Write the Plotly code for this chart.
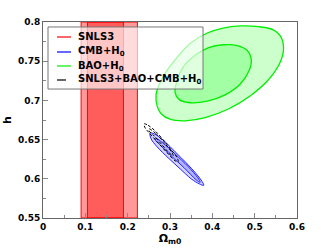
import plotly.graph_objects as go

# SNLS3 constraints on Omega_m0 (1 sigma and 2 sigma bands)
snls_1sig = [0.105, 0.19]
snls_2sig = [0.09, 0.223]

# BAO+H0 contours
bao_out_x = [0.267, 0.270, 0.279, 0.300, 0.336, 0.383, 0.438, 0.490, 0.532, 0.558, 0.568,
             0.563, 0.544, 0.509, 0.466, 0.423, 0.388, 0.348, 0.317, 0.289, 0.272, 0.267]
bao_out_y = [0.707, 0.692, 0.683, 0.676, 0.674, 0.678, 0.689, 0.706, 0.726, 0.746, 0.764,
             0.780, 0.790, 0.794, 0.795, 0.792, 0.786, 0.773, 0.755, 0.735, 0.717, 0.707]
bao_in_x = [0.312, 0.322, 0.348, 0.388, 0.430, 0.466, 0.487, 0.492, 0.482, 0.459, 0.426,
            0.390, 0.360, 0.333, 0.317, 0.312]
bao_in_y = [0.710, 0.701, 0.697, 0.699, 0.707, 0.721, 0.738, 0.752, 0.764, 0.770, 0.771,
            0.767, 0.758, 0.744, 0.726, 0.710]

# CMB+H0 contours
cmb_out_x = [0.253, 0.267, 0.2886, 0.3122, 0.3382, 0.3619, 0.3761, 0.3796, 0.369, 0.350,
             0.324, 0.2956, 0.2696, 0.2554, 0.253]
cmb_out_y = [0.6586, 0.656, 0.6471, 0.6344, 0.6204, 0.6064, 0.5962, 0.5917, 0.5936, 0.600,
             0.6127, 0.6268, 0.6408, 0.651, 0.6586]
cmb_in_x = [0.2649, 0.2886, 0.3193, 0.350, 0.369, 0.3713, 0.3619, 0.3335, 0.3027, 0.2767,
            0.2649, 0.2649]
cmb_in_y = [0.6522, 0.6433, 0.628, 0.6115, 0.5987, 0.5955, 0.5987, 0.614, 0.6293, 0.6433,
            0.6497, 0.6522]

# SNLS3+BAO+CMB+H0 contours
all_out_x = [0.2389, 0.2483, 0.2649, 0.2838, 0.3027, 0.3169, 0.3193, 0.3122, 0.2933, 0.272,
             0.2531, 0.2412, 0.2389]
all_out_y = [0.6701, 0.6682, 0.6611, 0.6497, 0.6369, 0.6268, 0.6217, 0.6229, 0.6331, 0.6459,
             0.6573, 0.665, 0.6701]
all_in_x = [0.2507, 0.2673, 0.2886, 0.3051, 0.3075, 0.298, 0.2791, 0.2602, 0.2507, 0.2507]
all_in_y = [0.6637, 0.6573, 0.6446, 0.6331, 0.6293, 0.6331, 0.6446, 0.656, 0.6611, 0.6637]

x_ticks = [0, 0.1, 0.2, 0.3, 0.4, 0.5, 0.6]
x_ticktext = ["0", "0.1", "0.2", "0.3", "0.4", "0.5", "0.6"]
y_ticks = [0.55, 0.6, 0.65, 0.7, 0.75, 0.8]
y_ticktext = ["0.55", "0.6", "0.65", "0.7", "0.75", "0.8"]
x_range = [0, 0.6]
y_range = [0.55, 0.8]

legend_names = ["SNLS3", "CMB+H<sub>0</sub>", "BAO+H<sub>0</sub>", "SNLS3+BAO+CMB+H<sub>0</sub>"]
legend_colors = ["#ff0000", "#0000ff", "#00ee00", "#000000"]
legend_dash = ["solid", "solid", "solid", "dash"]

FONT = "DejaVu Sans"
fig = go.Figure()

def band(lo, hi):
    return [lo, hi, hi, lo, lo], [y_range[0], y_range[0], y_range[1], y_range[1], y_range[0]]

for b in (snls_2sig, snls_1sig):
    bx, by = band(*b)
    fig.add_trace(go.Scatter(x=bx, y=by, mode="lines", fill="toself",
                             fillcolor="rgba(255,0,0,0.4)",
                             line=dict(color="#ff0000", width=1), showlegend=False,
                             hoverinfo="skip"))

for xs, ys in ((bao_out_x, bao_out_y), (bao_in_x, bao_in_y)):
    fig.add_trace(go.Scatter(x=xs, y=ys, mode="lines", fill="toself",
                             fillcolor="rgba(0,255,0,0.2)",
                             line=dict(color="#00ee00", width=1.3, shape="spline", smoothing=1),
                             showlegend=False))

for xs, ys in ((cmb_out_x, cmb_out_y), (cmb_in_x, cmb_in_y)):
    fig.add_trace(go.Scatter(x=xs, y=ys, mode="lines", fill="toself",
                             fillcolor="rgba(60,60,255,0.22)",
                             line=dict(color="#2020ff", width=1, shape="spline", smoothing=1),
                             showlegend=False))

for xs, ys in ((all_out_x, all_out_y), (all_in_x, all_in_y)):
    fig.add_trace(go.Scatter(x=xs, y=ys, mode="lines",
                             line=dict(color="#000000", width=1, dash="3px,2px",
                                       shape="spline", smoothing=1),
                             showlegend=False))

# Legend box (drawn as layout decorations)
shapes = [dict(type="rect", xref="paper", yref="paper", x0=0.0197, x1=0.63, y0=0.658, y1=0.9745,
               fillcolor="rgba(255,255,255,0.65)", line=dict(color="#777777", width=1),
               layer="above")]
annotations = []
row_y = [0.9235, 0.847, 0.7755, 0.7041]
for name, col, dsh, ry in zip(legend_names, legend_colors, legend_dash, row_y):
    shapes.append(dict(type="line", xref="paper", yref="paper", x0=0.0551, x1=0.1102,
                       y0=ry, y1=ry, line=dict(color=col, width=1.2, dash=dsh), layer="above"))
    annotations.append(dict(xref="paper", yref="paper", x=0.1299, y=ry, xanchor="left",
                            yanchor="middle", text=name, showarrow=False,
                            font=dict(family=FONT, size=10, color="#000000", weight="bold")))

axis_common = dict(showgrid=False, zeroline=False, showline=True, linecolor="#666666",
                   linewidth=1, mirror=True, ticks="inside", ticklen=5, tickcolor="#888888",
                   automargin=False,
                   tickfont=dict(family=FONT, size=9, color="#000000", weight="bold"))

fig.update_layout(
    width=321, height=251,
    margin=dict(l=43, r=24, t=22, b=33),
    paper_bgcolor="white", plot_bgcolor="white",
    shapes=shapes, annotations=annotations, showlegend=False,
    xaxis=dict(range=x_range, tickvals=x_ticks, ticktext=x_ticktext,
               minor=dict(ticks="inside", ticklen=3, dtick=0.05, tickcolor="#888888"),
               title=dict(text="Ω<sub>m0</sub>", standoff=3,
                          font=dict(family=FONT, size=11, color="#000000", weight="bold")),
               **axis_common),
    yaxis=dict(range=y_range, tickvals=y_ticks, ticktext=y_ticktext,
               minor=dict(ticks="inside", ticklen=3, dtick=0.025, tickcolor="#888888"),
               title=dict(text="h", standoff=4,
                          font=dict(family=FONT, size=11, color="#000000", weight="bold")),
               **axis_common),
)

fig.write_html("out.html", config={"displayModeBar": False},
               post_script="document.body.style.margin='0px';document.body.style.overflow='hidden';")
